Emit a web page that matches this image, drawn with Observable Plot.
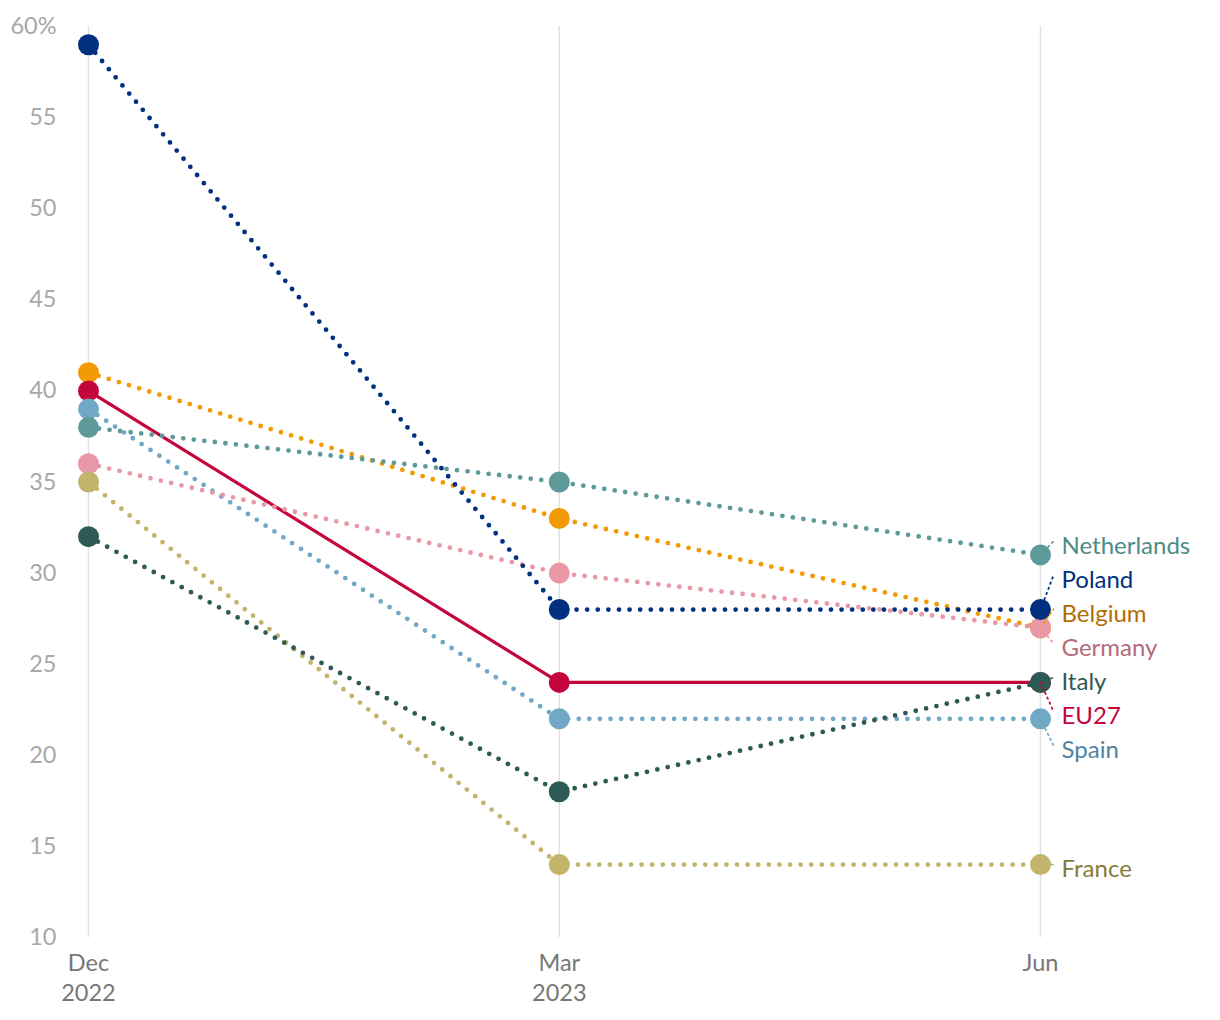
<!DOCTYPE html>
<html>
<head>
<meta charset="utf-8">
<script src="https://cdn.jsdelivr.net/npm/d3@7"></script>
<script src="https://cdn.jsdelivr.net/npm/@observablehq/plot@0.6"></script>
<style>
  html, body { margin: 0; padding: 0; background: #fff; }
  #chart { width: 1220px; height: 1020px; }
</style>
</head>
<body>
<div id="chart"></div>
<script>
// ---- Data ----
const periods = ["2022-12-01", "2023-03-01", "2023-06-01"];
const periodLabels = ["Dec\n2022", "Mar\n2023", "Jun"];
const yTicks = [10, 15, 20, 25, 30, 35, 40, 45, 50, 55, 60];

// label (legend) order, top to bottom
const countries = ["Netherlands", "Poland", "Belgium", "Germany", "Italy", "EU27", "Spain", "France"];
// drawing order (later = on top)
const drawOrder = ["Belgium", "EU27", "Spain", "Netherlands", "Germany", "France", "Italy", "Poland"];

const netherlands = [38, 35, 31];
const poland      = [59, 28, 28];
const belgium     = [41, 33, 27];
const germany     = [36, 30, 27];
const italy       = [32, 18, 24];
const eu27        = [40, 24, 24];
const spain       = [39, 22, 22];
const france      = [35, 14, 14];

const seriesValues = {
  Netherlands: netherlands, Poland: poland, Belgium: belgium, Germany: germany,
  Italy: italy, EU27: eu27, Spain: spain, France: france
};
const lineColors = {
  Netherlands: "#5e9a99", Poland: "#00307f", Belgium: "#f29a06", Germany: "#e898a7",
  Italy: "#2e5a55", EU27: "#c4053c", Spain: "#70a8c6", France: "#c2b46b"
};
const labelColors = {
  Netherlands: "#4e8a89", Poland: "#00307f", Belgium: "#b56b00", Germany: "#b56a7c",
  Italy: "#2e5a55", EU27: "#c4053c", Spain: "#4d83a3", France: "#857b34"
};

// ---- Build table ----
const parse = d3.utcParse("%Y-%m-%d");
const dates = periods.map(parse);
const rows = [];
for (const c of countries) {
  seriesValues[c].forEach((v, i) => rows.push({country: c, date: dates[i], value: v}));
}

// ---- Label dodging (in value units) ----
const gap = 1.87;
const ends = countries.map((c, i) => ({country: c, v: seriesValues[c][2], order: i}));
ends.sort((a, b) => b.v - a.v || a.order - b.order);
const clusters = [];
for (const d of ends) {
  clusters.push({ds: [d], sum: d.v});
  while (clusters.length > 1) {
    const c = clusters[clusters.length - 1], p = clusters[clusters.length - 2];
    const pTop = p.sum / p.ds.length + (p.ds.length - 1) * gap / 2;
    const pBottom = pTop - (p.ds.length - 1) * gap;
    const cTop = c.sum / c.ds.length + (c.ds.length - 1) * gap / 2;
    if (pBottom - cTop < gap) {
      p.ds.push(...c.ds); p.sum += c.sum; clusters.pop();
    } else break;
  }
}
const labels = [];
for (const cl of clusters) {
  const top = cl.sum / cl.ds.length + (cl.ds.length - 1) * gap / 2;
  cl.ds.forEach((d, i) => labels.push({country: d.country, v: d.v, ly: top - i * gap}));
}
const lastDate = dates[2];
const leaderEnd = d3.utcHour.offset(lastDate, 60);

// ---- Marks ----
const marks = [
  Plot.ruleX(dates, {x: d => d, y1: 10, y2: 60, stroke: "#e2e2e2", strokeWidth: 1.5}),
  Plot.axisY(yTicks, {
    tickSize: 0, tickPadding: 32, fill: "#a8a8a8", fontSize: 23.5,
    tickFormat: d => d === 60 ? "60%" : String(d)
  }),
  Plot.axisX(dates, {
    tickSize: 0, tickPadding: 13, fill: "#777", fontSize: 23.5, lineHeight: 1.25,
    tickFormat: (d, i) => periodLabels[i]
  })
];
for (const c of drawOrder) {
  const data = rows.filter(r => r.country === c);
  const solid = c === "EU27";
  marks.push(Plot.line(data, {
    x: "date", y: "value", stroke: lineColors[c],
    strokeWidth: solid ? 3.2 : 4.8,
    strokeDasharray: solid ? null : "0 10.6",
    strokeLinecap: "round"
  }));
  marks.push(Plot.dot(data, {x: "date", y: "value", r: 10.5, fill: lineColors[c], stroke: "none"}));
}
marks.push(Plot.link(labels, {
  x1: () => lastDate, y1: "v", x2: () => leaderEnd, y2: "ly",
  stroke: d => lineColors[d.country], strokeWidth: 1.8,
  strokeDasharray: "1.5 4", strokeLinecap: "round"
}));
marks.push(Plot.text(labels, {
  x: () => lastDate, y: "ly", text: "country", dx: 21, dy: 5,
  textAnchor: "start", fill: d => labelColors[d.country], fontSize: 24
}));

const chart = Plot.plot({
  width: 1220,
  height: 1020,
  marginTop: 26,
  marginBottom: 83,
  marginLeft: 88,
  marginRight: 180,
  style: {fontFamily: "Lato, sans-serif", background: "#fff", overflow: "visible"},
  x: {type: "utc", domain: [dates[0], dates[2]], axis: null},
  y: {domain: [10, 60], axis: null},
  color: {type: "identity"},
  marks
});
document.getElementById("chart").appendChild(chart);
</script>
</body>
</html>
